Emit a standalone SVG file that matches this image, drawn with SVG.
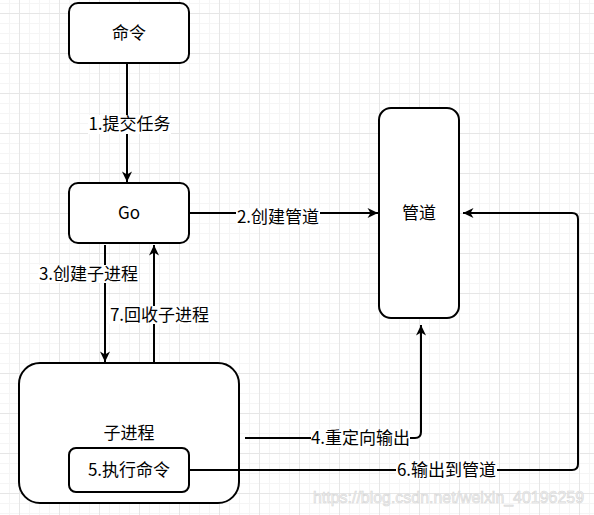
<svg xmlns="http://www.w3.org/2000/svg" width="594" height="515" viewBox="0 0 594 515">
<defs>
<pattern id="grid" patternUnits="userSpaceOnUse" x="19" y="13" width="40" height="40">
<path d="M10.5 0V40M20.5 0V40M30.5 0V40M0 10.5H40M0 20.5H40M0 30.5H40" stroke="#f5f5f5" stroke-width="1" fill="none"/>
<path d="M0.5 0V40M0 0.5H40" stroke="#e6e6e6" stroke-width="1" fill="none"/>
</pattern>
<marker id="arr" markerUnits="userSpaceOnUse" markerWidth="12" markerHeight="12" viewBox="0 0 12 12" refX="11" refY="6" orient="auto">
<path d="M0.5 1L11 6L0.5 11L3.5 6Z" fill="#000"/>
</marker>
<style>
.box{fill:#fff;stroke:#000;stroke-width:2}
.t{font-family:"Noto Sans CJK SC","Liberation Sans",sans-serif;font-size:17px;fill:#000;text-anchor:middle;dominant-baseline:central}
.e{fill:none;stroke:#000;stroke-width:2}
.lb{fill:#fff}
</style>
</defs>
<rect width="594" height="515" fill="#fff"/>
<rect width="594" height="515" fill="url(#grid)"/>
<g id="node-mingling"><rect class="box" x="69" y="3" width="120" height="60" rx="9"/><text class="t" x="129" y="31">命令</text></g>
<g id="node-go"><rect class="box" x="69" y="183" width="120" height="60" rx="9"/><text class="t" x="129" y="211">Go</text></g>
<g id="node-guandao"><rect class="box" x="379" y="108" width="80" height="210" rx="12"/><text class="t" x="419" y="211">管道</text></g>
<g id="node-zijincheng"><rect class="box" x="19" y="363" width="220" height="140" rx="21"/><text class="t" x="129" y="431">子进程</text></g>
<g id="node-zhixing"><rect class="box" x="69" y="448" width="120" height="44" rx="7"/><text class="t" x="129" y="468">5.执行命令</text></g>
<g id="connectors">
<path class="e" d="M127 63V182" marker-end="url(#arr)"/>
<path class="e" d="M189 213H378" marker-end="url(#arr)"/>
<path class="e" d="M105 245V362" marker-end="url(#arr)"/>
<path class="e" d="M154 363V245" marker-end="url(#arr)"/>
<path class="e" d="M245 438H415Q421 438 421 432V325" marker-end="url(#arr)"/>
<path class="e" d="M189 470H572Q578 470 578 464V219Q578 213 572 213H463" marker-end="url(#arr)"/>
<rect class="lb" x="88" y="115" width="83" height="19"/><text class="t" x="129.5" y="122">1.提交任务</text>
<rect class="lb" x="236" y="208" width="84" height="18"/><text class="t" x="278" y="215">2.创建管道</text>
<rect class="lb" x="38" y="265" width="101" height="18"/><text class="t" x="88.5" y="272">3.创建子进程</text>
<rect class="lb" x="109" y="306" width="101" height="18"/><text class="t" x="159.5" y="313">7.回收子进程</text>
<rect class="lb" x="311" y="429" width="99" height="18"/><text class="t" x="360.5" y="436">4.重定向输出</text>
<rect class="lb" x="396" y="461" width="101" height="18"/><text class="t" x="446.5" y="468">6.输出到管道</text>
</g>
<text x="313" y="503" textLength="271" lengthAdjust="spacingAndGlyphs" font-family="Liberation Sans, sans-serif" font-size="17" fill="#f2f2f2" stroke="#d6d6d6" stroke-width="0.6">https://blog.csdn.net/weixin_40196259</text>
</svg>
